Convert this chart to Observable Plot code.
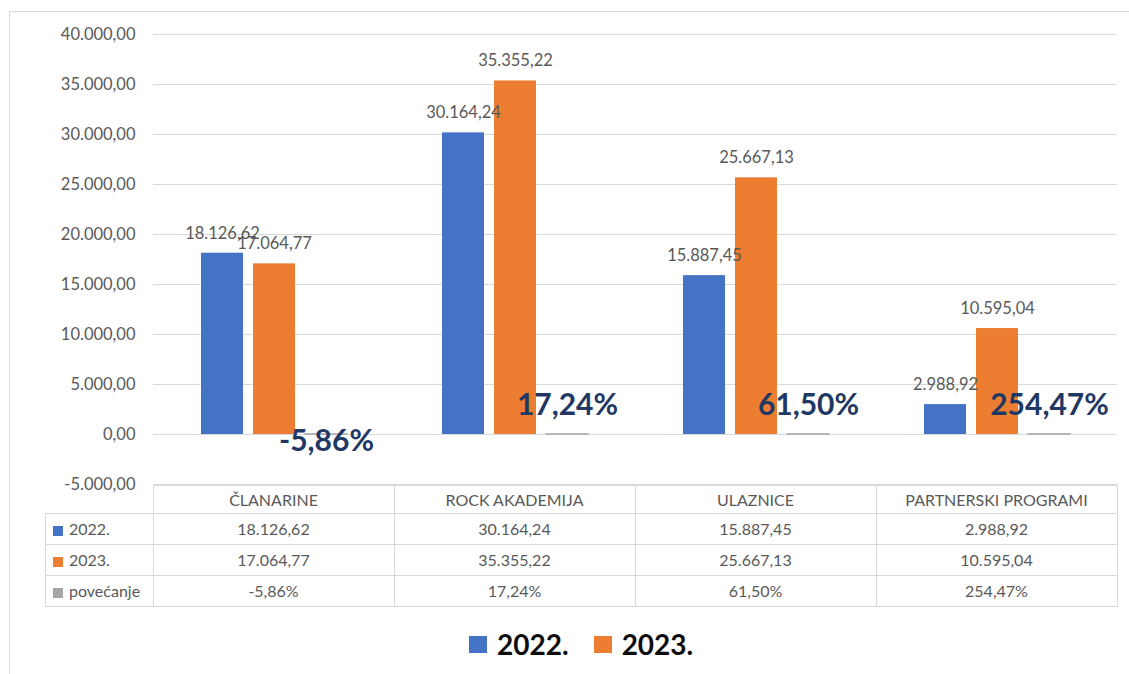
<!DOCTYPE html>
<html>
<head>
<meta charset="utf-8">
<script src="https://cdn.jsdelivr.net/npm/d3@7"></script>
<script src="https://cdn.jsdelivr.net/npm/@observablehq/plot@0.6"></script>
<style>
  body { margin: 0; background: #fff; font-family: Lato, sans-serif; }
  #wrap { position: relative; width: 1129px; height: 674px; overflow: hidden; background: #fff; }
  #frame { position: absolute; left: 9px; top: 11px; width: 1140px; height: 700px; border: 1px solid #d9d9d9; box-sizing: border-box; }
  #chart { position: absolute; left: 0; top: 0; }
  #tbl { position: absolute; left: 45px; top: 485px; border-collapse: collapse; font-size: 16px; color: #595959; font-family: Lato, sans-serif; }
  #tbl td { border: 1px solid #d9d9d9; text-align: center; padding: 0; height: 30px; line-height: 1; }
  #tbl tr.head td { height: 27px; }
  #tbl td.corner { border: none; }
  #tbl td.lab { text-align: left; padding-left: 7px; white-space: nowrap; }
  #tbl .sq { display: inline-block; width: 10px; height: 10px; margin-right: 6px; vertical-align: -1px; }
  #legend { position: absolute; left: 469px; top: 630px; display: flex; align-items: center; font-family: Lato, sans-serif; font-weight: bold; font-size: 28px; color: #0d0d0d; line-height: 1; }
  #legend .sw { width: 18px; height: 17px; margin-right: 10px; }
  #legend .item { display: flex; align-items: center; margin-right: 25px; }
</style>
</head>
<body>
<div id="wrap">
  <div id="frame"></div>
  <div id="chart"></div>
  <table id="tbl"></table>
  <div id="legend"></div>
</div>
<script>
// ---- data ----
const categories = ["ČLANARINE", "ROCK AKADEMIJA", "ULAZNICE", "PARTNERSKI PROGRAMI"];
const seriesNames = ["2022.", "2023.", "povećanje"];
const values2022 = [18126.62, 30164.24, 15887.45, 2988.92];
const values2023 = [17064.77, 35355.22, 25667.13, 10595.04];
const growth = [-0.0586, 0.1724, 0.6150, 2.5447];
const yTicks = [-5000, 0, 5000, 10000, 15000, 20000, 25000, 30000, 35000, 40000];
const colors = ["#4472C4", "#ED7D31", "#A5A5A5"];
const legendNames = ["2022.", "2023."];

// ---- formatting ----
const loc = d3.formatLocale({decimal: ",", thousands: ".", grouping: [3], currency: ["", ""], minus: "-"});
const fmtNum = loc.format(",.2f");
const fmtPct = loc.format(".2%");

const rows = [];
categories.forEach((c, i) => {
  rows.push({cat: c, series: seriesNames[0], value: values2022[i]});
  rows.push({cat: c, series: seriesNames[1], value: values2023[i]});
  rows.push({cat: c, series: seriesNames[2], value: growth[i]});
});
const money = rows.filter(d => d.series !== "povećanje");
const pct = rows.filter(d => d.series === "povećanje");

const plot = Plot.plot({
  width: 1129,
  height: 500,
  marginTop: 34,
  marginBottom: 16,
  marginLeft: 153,
  marginRight: 12,
  style: {fontFamily: "Lato, sans-serif", fontSize: "16.5px", color: "#595959", background: "transparent", overflow: "visible"},
  fx: {domain: categories, padding: 0, axis: null, label: null},
  x: {domain: seriesNames, paddingInner: 0.2, paddingOuter: 0.895, axis: null},
  y: {domain: [-5000, 40000], ticks: yTicks, tickFormat: fmtNum, tickSize: 0, tickPadding: 18, label: null},
  color: {domain: seriesNames, range: colors},
  marks: [
    Plot.ruleY(yTicks, {stroke: "#d9d9d9", strokeWidth: 1.2}),
    Plot.barY(money, {fx: "cat", x: "series", y: "value", fill: "series"}),
    Plot.barY(pct, {fx: "cat", x: "series", y: "value", fill: "series", stroke: "#A5A5A5", strokeWidth: 1.5}),
    Plot.text(money, {fx: "cat", x: "series", y: "value", text: d => fmtNum(d.value), dy: -20, fill: "#595959", fontSize: 16.5}),
    Plot.text(pct.filter(d => d.value >= 0), {fx: "cat", x: "series", y: "value", text: d => fmtPct(d.value), dy: -29, fill: "#1F3864", fontSize: 30, fontWeight: "bold"}),
    Plot.text(pct.filter(d => d.value < 0), {fx: "cat", x: "series", y: "value", text: d => fmtPct(d.value), dy: 7, fill: "#1F3864", fontSize: 30, fontWeight: "bold"})
  ]
});
document.getElementById("chart").appendChild(plot);

// ---- data table ----
const tbl = document.getElementById("tbl");
let html = '<tr class="head"><td class="corner" style="width:107px"></td>' +
  categories.map(c => `<td style="width:240px">${c}</td>`).join("") + "</tr>";
const tableRows = [
  [seriesNames[0], values2022.map(fmtNum), colors[0]],
  [seriesNames[1], values2023.map(fmtNum), colors[1]],
  [seriesNames[2], growth.map(fmtPct), colors[2]]
];
tableRows.forEach(([name, vals, col]) => {
  html += `<tr><td class="lab"><span class="sq" style="background:${col}"></span>${name}</td>` +
    vals.map(v => `<td>${v}</td>`).join("") + "</tr>";
});
tbl.innerHTML = html;

// ---- legend ----
document.getElementById("legend").innerHTML = legendNames.map((n, i) =>
  `<div class="item"><div class="sw" style="background:${colors[i]}"></div><span>${n}</span></div>`).join("");
</script>
</body>
</html>
